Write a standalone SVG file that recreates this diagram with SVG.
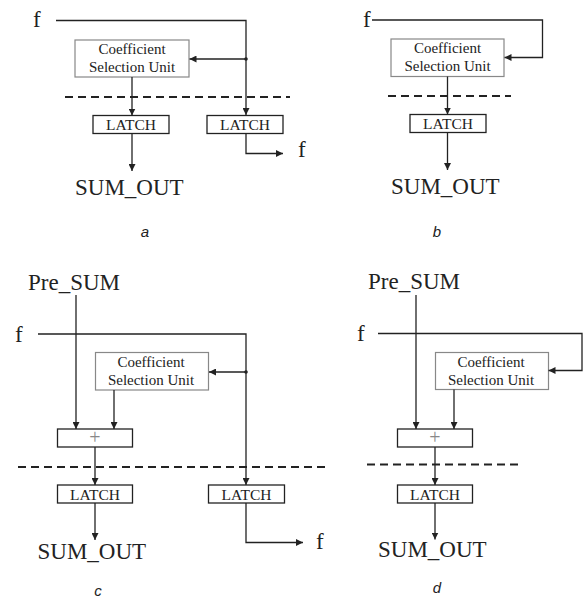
<svg xmlns="http://www.w3.org/2000/svg" width="587" height="599" viewBox="0 0 587 599">
<style>
.w{fill:none;stroke:#222;stroke-width:1.3}
.dash{fill:none;stroke:#222;stroke-width:2;stroke-dasharray:8,5}
.csu{fill:#fff;stroke:#888;stroke-width:1.2}
.box{fill:#fff;stroke:#222;stroke-width:1.3}
.t{font-family:"Liberation Serif","Times New Roman",serif;fill:#222}
.big{font-size:23px}
.cs{font-size:15px;text-anchor:middle}
.la{font-size:15.5px;text-anchor:middle}
.plus{font-family:"Liberation Serif",serif;font-size:20px;fill:#888;text-anchor:middle}
.cap{font-family:"Liberation Sans",Arial,sans-serif;font-style:italic;font-size:15px;fill:#222;text-anchor:middle}
</style>
<defs>
<marker id="ah" viewBox="0 0 10 10" refX="10" refY="5" markerWidth="7" markerHeight="7" markerUnits="userSpaceOnUse" orient="auto">
<path d="M0,0 L10,5 L0,10 z" fill="#222"/>
</marker>
</defs>

<!-- Panel a -->
<g id="a-csu"><rect class="csu" x="75" y="40" width="114" height="37"/>
<text class="t cs" x="132" y="54">Coefficient</text><text class="t cs" x="132" y="72">Selection Unit</text></g>
<g id="a-latch1"><rect class="box" x="93" y="115.5" width="76" height="18"/><text class="t la" x="131" y="130">LATCH</text></g>
<g id="a-latch2"><rect class="box" x="207" y="115.5" width="76" height="18"/><text class="t la" x="245" y="130">LATCH</text></g>
<g id="a-labels">
<text class="t big" x="33" y="27">f</text>
<text class="t big" x="298" y="157">f</text>
<text class="t big" x="75" y="195">SUM_OUT</text>
<text class="cap" x="145" y="237">a</text>
</g>

<!-- Panel b -->
<g id="b-csu"><rect class="csu" x="391" y="39" width="113" height="37.5"/>
<text class="t cs" x="447.5" y="53">Coefficient</text><text class="t cs" x="447.5" y="71">Selection Unit</text></g>
<g id="b-latch"><rect class="box" x="410" y="114.5" width="76" height="18"/><text class="t la" x="448" y="129">LATCH</text></g>
<g id="b-labels">
<text class="t big" x="363" y="27">f</text>
<text class="t big" x="391" y="193.5">SUM_OUT</text>
<text class="cap" x="437" y="237">b</text>
</g>

<!-- Panel c -->
<g id="c-csu"><rect class="csu" x="95.5" y="352.5" width="113" height="37.5"/>
<text class="t cs" x="151" y="366.5">Coefficient</text><text class="t cs" x="151" y="384.5">Selection Unit</text></g>
<g id="c-plus"><rect class="box" x="57.5" y="429" width="75" height="18"/><text class="plus" x="95" y="444">+</text></g>
<g id="c-latch1"><rect class="box" x="57.5" y="485" width="75" height="18"/><text class="t la" x="95" y="499.5">LATCH</text></g>
<g id="c-latch2"><rect class="box" x="208.5" y="485" width="76" height="18"/><text class="t la" x="246.5" y="499.5">LATCH</text></g>
<g id="c-labels">
<text class="t big" x="28" y="289.5">Pre_SUM</text>
<text class="t big" x="15" y="342">f</text>
<text class="t big" x="316" y="548.5">f</text>
<text class="t big" x="37.5" y="559">SUM_OUT</text>
<text class="cap" x="98" y="596">c</text>
</g>

<!-- Panel d -->
<g id="d-csu"><rect class="csu" x="435.5" y="352.5" width="113" height="37"/>
<text class="t cs" x="491" y="366.5">Coefficient</text><text class="t cs" x="491" y="384.5">Selection Unit</text></g>
<g id="d-plus"><rect class="box" x="397.5" y="429" width="75" height="18"/><text class="plus" x="435" y="444">+</text></g>
<g id="d-latch"><rect class="box" x="397.5" y="485" width="75" height="18"/><text class="t la" x="435" y="499.5">LATCH</text></g>
<g id="d-labels">
<text class="t big" x="368" y="288.5">Pre_SUM</text>
<text class="t big" x="357" y="341">f</text>
<text class="t big" x="378" y="557">SUM_OUT</text>
<text class="cap" x="437" y="593">d</text>
</g>

<g id="connectors">
<!-- a -->
<line class="dash" x1="65" y1="97" x2="290" y2="97"/>
<polyline class="w" points="56,20.5 246,20.5 246,115" marker-end="url(#ah)"/>
<line class="w" x1="246" y1="59" x2="189.5" y2="59" marker-end="url(#ah)"/>
<circle cx="246" cy="59" r="1.8" fill="#222"/>
<line class="w" x1="132" y1="77" x2="132" y2="115.5" marker-end="url(#ah)"/>
<line class="w" x1="132" y1="133.5" x2="132" y2="171" marker-end="url(#ah)"/>
<polyline class="w" points="246,133.5 246,153.5 283,153.5" marker-end="url(#ah)"/>
<!-- b -->
<line class="dash" x1="388" y1="96" x2="511" y2="96"/>
<polyline class="w" points="372,20 542.5,20 542.5,57.5 504.5,57.5" marker-end="url(#ah)"/>
<line class="w" x1="447.5" y1="76.5" x2="447.5" y2="114.5" marker-end="url(#ah)"/>
<line class="w" x1="447.5" y1="132.5" x2="447.5" y2="170" marker-end="url(#ah)"/>
<!-- c -->
<line class="dash" x1="18" y1="467" x2="328" y2="467"/>
<line class="w" x1="76" y1="295" x2="76" y2="429" marker-end="url(#ah)"/>
<polyline class="w" points="38,334 246,334 246,485" marker-end="url(#ah)"/>
<line class="w" x1="246" y1="372" x2="209" y2="372" marker-end="url(#ah)"/>
<circle cx="246" cy="372" r="1.8" fill="#222"/>
<line class="w" x1="114" y1="390" x2="114" y2="429" marker-end="url(#ah)"/>
<line class="w" x1="95" y1="447" x2="95" y2="485" marker-end="url(#ah)"/>
<line class="w" x1="95" y1="503" x2="95" y2="540" marker-end="url(#ah)"/>
<polyline class="w" points="246,503 246,542.5 303,542.5" marker-end="url(#ah)"/>
<!-- d -->
<line class="dash" x1="367" y1="464.5" x2="520" y2="464.5"/>
<line class="w" x1="416" y1="295" x2="416" y2="429" marker-end="url(#ah)"/>
<polyline class="w" points="378,333.5 582,333.5 582,370.5 548.5,370.5" marker-end="url(#ah)"/>
<line class="w" x1="454" y1="389.5" x2="454" y2="429" marker-end="url(#ah)"/>
<line class="w" x1="435" y1="447" x2="435" y2="485" marker-end="url(#ah)"/>
<line class="w" x1="435" y1="503" x2="435" y2="539.5" marker-end="url(#ah)"/>
</g>
</svg>
